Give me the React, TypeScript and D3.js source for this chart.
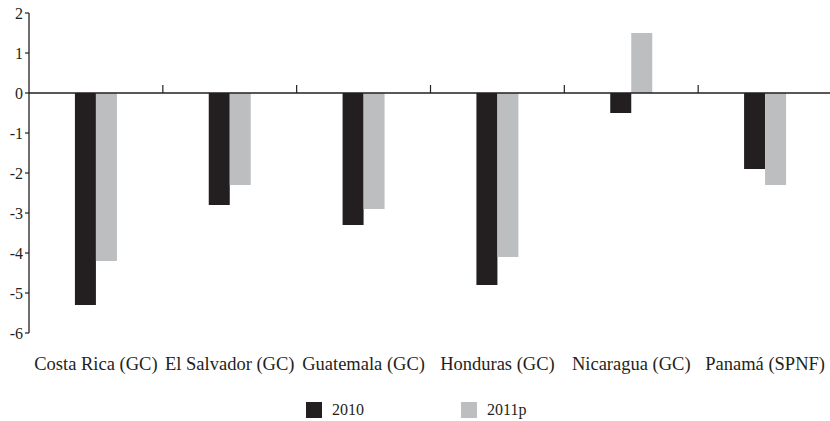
import React from "react";
import * as d3 from "d3";

const categories = [
  "Costa Rica (GC)",
  "El Salvador (GC)",
  "Guatemala (GC)",
  "Honduras (GC)",
  "Nicaragua (GC)",
  "Panamá (SPNF)",
];
const series2010 = [-5.3, -2.8, -3.3, -4.8, -0.5, -1.9];
const series2011p = [-4.2, -2.3, -2.9, -4.1, 1.5, -2.3];
const seriesNames = ["2010", "2011p"];
const seriesColors = ["#231f20", "#bcbec0"];
const yTicks = [2, 1, 0, -1, -2, -3, -4, -5, -6];

const W = 830;
const H = 421;
const FONT = "Liberation Serif, Tinos, Times New Roman, DejaVu Serif, serif";

export default function App() {
  const x = d3.scaleBand<string>().domain(categories).range([29, 832]);
  const y = d3.scaleLinear().domain([-6, 2]).range([333, 13]);
  const barW = 21;
  const axisColor = "#231f20";
  const series = [series2010, series2011p];
  const boundaries = categories.slice(1).map((c) => x(c) as number);
  const ts = { fontFamily: FONT };

  return (
    <svg
      width={W}
      height={H}
      style={{ position: "absolute", left: 0, top: 0, background: "#fff", fontFamily: FONT }}
    >
      {/* bars */}
      {series.map((vals, si) =>
        vals.map((v, i) => {
          const cx = (x(categories[i]) as number) + x.bandwidth() / 2;
          const bx = cx - barW + si * barW;
          return (
            <rect
              key={`${si}-${i}`}
              x={bx}
              y={Math.min(y(v), y(0))}
              width={barW}
              height={Math.abs(y(v) - y(0))}
              fill={seriesColors[si]}
            />
          );
        })
      )}
      {/* y axis */}
      <line x1={29} x2={29} y1={y(2)} y2={y(-6)} stroke={axisColor} strokeWidth={1.3} />
      {yTicks.map((t) => (
        <g key={t}>
          <line x1={25} x2={29} y1={y(t)} y2={y(t)} stroke={axisColor} strokeWidth={1.2} />
          <text
            x={23}
            y={y(t)}
            dy="0.35em"
            textAnchor="end"
            fontSize={16}
            fill="#231f20"
            style={ts}
          >
            {t}
          </text>
        </g>
      ))}
      {/* zero line */}
      <line x1={29} x2={830} y1={y(0)} y2={y(0)} stroke={axisColor} strokeWidth={1.3} />
      {boundaries.map((b, i) => (
        <line key={i} x1={b} x2={b} y1={y(0) - 8} y2={y(0)} stroke={axisColor} strokeWidth={1.2} />
      ))}
      {/* category labels */}
      {categories.map((c) => (
        <text
          key={c}
          x={(x(c) as number) + x.bandwidth() / 2}
          y={370}
          textAnchor="middle"
          fontSize={18.5}
          fill="#231f20"
          style={ts}
        >
          {c}
        </text>
      ))}
      {/* legend */}
      {seriesNames.map((n, i) => (
        <g key={n} transform={`translate(${306 + i * 155},402)`}>
          <rect x={0} y={0} width={16} height={16} fill={seriesColors[i]} />
          <text x={26} y={13} fontSize={16} fill="#231f20" style={ts}>
            {n}
          </text>
        </g>
      ))}
    </svg>
  );
}
